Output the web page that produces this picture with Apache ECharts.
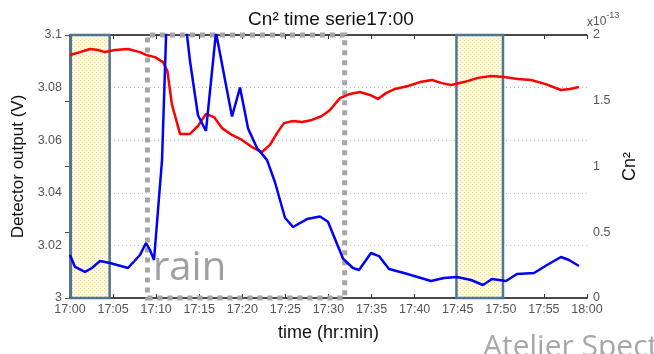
<!DOCTYPE html>
<html>
<head>
<meta charset="utf-8">
<script src="https://cdn.jsdelivr.net/npm/echarts@6/dist/echarts.min.js"></script>
<style>html,body{margin:0;padding:0;background:#fff}#c{width:654px;height:354px}</style>
</head>
<body>
<div id="c"></div>
<script>
// time in minutes after 17:00
const tickLabels = ['17:00','17:05','17:10','17:15','17:20','17:25','17:30','17:35','17:40','17:45','17:50','17:55','18:00'];
const redT = [0,1.16,2.32,3.25,4.06,5.22,6.73,8.12,8.82,9.86,10.79,11.3,11.84,12.77,13.93,14.85,15.78,16.71,17.64,18.8,19.96,21.12,22.28,23.21,24.02,24.83,25.88,26.92,28.08,29.24,30.17,31.33,32.49,33.65,34.81,35.74,36.67,37.72,39.22,40.62,42.01,43.17,44.21,45.72,47.35,48.86,50.37,51.99,53.5,55.12,56.98,58.02,59.07];
const redV = [3.0924,3.0935,3.0947,3.0943,3.0935,3.0943,3.0947,3.0935,3.0924,3.0916,3.0897,3.0863,3.0734,3.0624,3.0624,3.0654,3.0700,3.0688,3.0646,3.0620,3.0601,3.0574,3.0555,3.0582,3.0627,3.0665,3.0673,3.0669,3.0677,3.0692,3.0715,3.0760,3.0776,3.0783,3.0772,3.0757,3.0779,3.0795,3.0806,3.0821,3.0829,3.0817,3.0810,3.0821,3.0837,3.0844,3.0840,3.0833,3.0829,3.0814,3.0791,3.0795,3.0802];
const blueT = [0,0.58,1.74,2.55,3.48,4.64,6.73,8.12,8.82,9.28,9.75,10.68,11.6,12.53,13.58,13.93,14.85,15.78,16.94,18.8,19.73,20.66,21.7,22.86,23.79,24.95,25.88,27.5,29.01,29.94,31.68,32.84,33.54,34.93,35.86,37.02,38.76,40.73,41.89,43.4,44.91,46.54,47.93,48.97,50.6,51.87,53.85,55.36,56.98,57.91,59.07];
const blueV = [0.327,0.236,0.198,0.228,0.281,0.266,0.228,0.327,0.418,0.365,0.289,1.05,2.9,2.7,2.0,1.80,1.39,1.27,2.02,1.38,1.60,1.29,1.14,1.05,0.88,0.61,0.54,0.60,0.62,0.58,0.30,0.228,0.213,0.342,0.319,0.221,0.19,0.152,0.129,0.152,0.16,0.137,0.099,0.144,0.129,0.183,0.19,0.251,0.312,0.289,0.243];
const boxes = [[0.1,4.6],[44.85,50.25]];
const rainBox = [8.99,31.88];

const pat = document.createElement('canvas');
pat.width = 4; pat.height = 4;
const pc = pat.getContext('2d');
pc.fillStyle = '#fff9e0'; pc.fillRect(0,0,4,4);
pc.fillStyle = '#f6dc8c'; pc.fillRect(0,0,1,1); pc.fillRect(2,2,1,1);

const chart = echarts.init(document.getElementById('c'));
const font = 'Liberation Sans, Arial, sans-serif';
chart.setOption({
  animation: false,
  backgroundColor: '#fff',
  title: {text: 'Cn² time serie17:00', left: 326, textAlign: 'center', top: 5,
    textStyle: {fontFamily: font, fontSize: 19, fontWeight: 'normal', color: '#111'}},
  grid: {left: 70, right: 67, top: 35, bottom: 56},
  xAxis: [{
    type: 'value', min: 0, max: 60, interval: 5,
    name: 'time (hr:min)', nameLocation: 'middle', nameGap: 26,
    nameTextStyle: {fontFamily: font, fontSize: 18, color: '#111'},
    axisLine: {lineStyle: {color: '#111', width: 1.5}},
    axisTick: {inside: true, length: 4, lineStyle: {color: '#333'}},
    axisLabel: {fontFamily: font, fontSize: 12.5, color: '#555', margin: 5,
      formatter: v => tickLabels[Math.round(v / 5)]},
    splitLine: {show: false}
  }, {
    type: 'value', min: 0, max: 60, interval: 5, position: 'top',
    axisLine: {lineStyle: {color: '#111', width: 1.5}},
    axisTick: {inside: true, length: 4, lineStyle: {color: '#333'}},
    axisLabel: {show: false}, splitLine: {show: false}
  }],
  yAxis: [{
    type: 'value', min: 3.0, max: 3.1, interval: 0.02, position: 'left',
    name: 'Detector output (V)', nameLocation: 'middle', nameGap: 37, nameRotate: 90,
    nameTextStyle: {fontFamily: font, fontSize: 17, color: '#111'},
    axisLine: {show: true, lineStyle: {color: '#111', width: 1.5}},
    axisTick: {show: true, inside: true, length: 4, lineStyle: {color: '#333'}},
    minorTick: {show: true, splitNumber: 2, length: 4, lineStyle: {color: '#333'}},
    axisLabel: {fontFamily: font, fontSize: 12.5, color: '#555', margin: 8,
      formatter: v => String(+v.toFixed(2))},
    splitLine: {show: true, lineStyle: {color: '#bbb', type: [1, 3], width: 1}}
  }, {
    type: 'value', min: 0, max: 2, interval: 0.5, position: 'right',
    name: 'Cn²', nameLocation: 'middle', nameGap: 28, nameRotate: 90,
    nameTextStyle: {fontFamily: font, fontSize: 18, color: '#111'},
    axisLine: {show: true, lineStyle: {color: '#777', width: 1.5}},
    axisTick: {show: true, inside: true, length: 5, lineStyle: {color: '#555'}},
    axisLabel: {fontFamily: font, fontSize: 12.5, color: '#555', margin: 6},
    splitLine: {show: false}
  }],
  series: [
    {
      type: 'line', data: [], xAxisIndex: 0, yAxisIndex: 0, z: 1,
      markArea: {silent: true,
        itemStyle: {color: {image: pat, repeat: 'repeat'}, borderColor: '#4f7498', borderWidth: 2.5},
        data: boxes.map(b => [{xAxis: b[0]}, {xAxis: b[1]}])}
    },
    {
      name: 'V', type: 'line', xAxisIndex: 0, yAxisIndex: 0, z: 3,
      data: redT.map((t, i) => [t, redV[i]]),
      showSymbol: false, smooth: false, lineStyle: {color: '#ff0000', width: 2.5}
    },
    {
      name: 'Cn2', type: 'line', xAxisIndex: 0, yAxisIndex: 1, z: 4, clip: true,
      data: blueT.map((t, i) => [t, blueV[i]]),
      showSymbol: false, smooth: false, lineStyle: {color: '#0000ff', width: 2.5}
    },
    {
      type: 'line', data: [], xAxisIndex: 0, yAxisIndex: 0, z: 5,
      markArea: {silent: true,
        itemStyle: {color: 'rgba(0,0,0,0)', borderColor: '#a6a6a6', borderWidth: 5, borderType: [5, 5]},
        data: [[{xAxis: rainBox[0]}, {xAxis: rainBox[1]}]]}
    }
  ],
  graphic: [
    {type: 'text', left: 153, top: 249, z: 10,
      style: {text: 'rain', fontFamily: 'Open Sans, sans-serif', fontSize: 40, fill: '#a0a0a0'}},
    {type: 'text', left: 587, top: 11,
      style: {text: '{a|x}{b|10}{c|-13}', rich: {
        a: {fontFamily: font, fontSize: 12, fill: '#555', padding: [6, 0, 0, 0]},
        b: {fontFamily: font, fontSize: 12, fill: '#555', padding: [4, 0, 0, 0]},
        c: {fontFamily: font, fontSize: 9, fill: '#555', verticalAlign: 'top'}}}},
    {type: 'text', left: 483, top: 332,
      style: {text: 'Atelier Spectl', fontFamily: 'Open Sans, sans-serif', fontSize: 30, fill: '#a8a8a8'}}
  ]
});
</script>
</body>
</html>
